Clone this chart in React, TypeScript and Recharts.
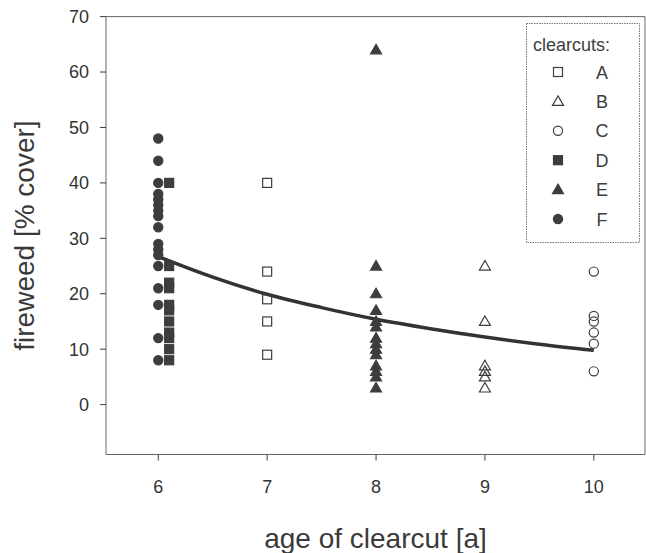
import { ComposedChart, Legend, Line, ReferenceArea, Scatter, XAxis, YAxis } from 'recharts';

// fireweed cover per clearcut
const ageTicks = [6, 7, 8, 9, 10];
const coverTicks = [0, 10, 20, 30, 40, 50, 60, 70];

const ageA = 7;
const coverA = [40, 24, 19, 15, 9];
const ageB = 9;
const coverB = [25, 15, 7, 6, 5, 3];
const ageC = 10;
const coverC = [24, 16, 15, 13, 11, 6];
const ageD = 6.1; // plotted slightly beside F in the original
const coverD = [40, 25, 22, 21, 18, 17, 15, 13, 12, 10, 8];
const ageE = 8;
const coverE = [64, 25, 20, 17, 15, 14, 12, 11, 10, 9, 7, 6, 5, 3];
const ageF = 6;
const coverF = [48, 44, 40, 38, 37, 36, 35, 34, 32, 29, 28, 27, 25, 21, 18, 12, 8];

// fitted curve
const fitAges = [6, 6.5, 7, 7.5, 8, 8.5, 9, 9.5, 10];
const fitCover = [26.7, 23.0, 19.9, 17.5, 15.4, 13.7, 12.2, 10.9, 9.8];

const legendNames = ['A', 'B', 'C', 'D', 'E', 'F'];

const INK = '#3d3d3d';
const FONT = '"Liberation Sans", Arial, Helvetica, sans-serif';

const pts = (age: number, cover: number[]) => cover.map((y) => ({ x: age, y }));
const fitData = fitAges.map((x, i) => ({ x, y: fitCover[i] }));

type P = { cx?: number; cy?: number };

function Square({ cx = 0, cy = 0, filled }: P & { filled?: boolean }) {
  return <rect x={cx - 4.5} y={cy - 4.5} width={9} height={9} fill={filled ? INK : '#fff'} fillOpacity={filled ? 1 : 0} stroke={INK} strokeWidth={1.2} />;
}
function Triangle({ cx = 0, cy = 0, filled }: P & { filled?: boolean }) {
  const d = `M${cx},${cy - 5.5} L${cx + 5.5},${cy + 4} L${cx - 5.5},${cy + 4} Z`;
  return <path d={d} fill={filled ? INK : 'none'} stroke={INK} strokeWidth={1.2} />;
}
function Circle({ cx = 0, cy = 0, filled }: P & { filled?: boolean }) {
  return <circle cx={cx} cy={cy} r={4.6} fill={filled ? INK : 'none'} stroke={INK} strokeWidth={1.2} />;
}

const shapes = [
  (p: P) => <Square {...p} />,
  (p: P) => <Triangle {...p} />,
  (p: P) => <Circle {...p} />,
  (p: P) => <Square {...p} filled />,
  (p: P) => <Triangle {...p} filled />,
  (p: P) => <Circle {...p} filled />,
];

function LegendBox() {
  return (
    <svg width={114} height={220} style={{ display: 'block' }}>
      <rect x={0.5} y={0.5} width={113} height={219} fill="#fff" stroke="#777" strokeWidth={1} strokeDasharray="1.5 1" />
      <text x={7} y={28} fontSize={18} fill={INK} fontFamily={FONT}>
        clearcuts:
      </text>
      {legendNames.map((n, i) => {
        const cy = 49 + i * 29.4;
        return (
          <g key={n}>
            {shapes[i]({ cx: 32, cy })}
            <text x={76} y={cy + 6.5} fontSize={18} textAnchor="middle" fill={INK} fontFamily={FONT}>
              {n}
            </text>
          </g>
        );
      })}
    </svg>
  );
}

export default function App() {
  return (
    <div style={{ position: 'absolute', left: 0, top: 0, width: 646, height: 553, background: '#fff', overflow: 'hidden' }}>
      <ComposedChart width={646} height={553} margin={{ top: 16.6, right: 1, bottom: 0, left: 0 }}>
        <XAxis
          type="number"
          dataKey="x"
          domain={[5.52, 10.47]}
          ticks={ageTicks}
          allowDataOverflow
          height={98.5}
          axisLine={false}
          tickSize={6}
          tickMargin={19.5}
          tickLine={{ stroke: INK }}
          tick={{ fontSize: 18, fill: '#333', fontFamily: FONT }}
          label={{ value: 'age of clearcut [a]', position: 'insideBottom', offset: 5, fontSize: 28, fill: '#3a3a3a', fontFamily: FONT }}
        />
        <YAxis
          type="number"
          dataKey="y"
          domain={[-9, 70]}
          ticks={coverTicks}
          allowDataOverflow
          width={106}
          axisLine={false}
          tickSize={6}
          tickMargin={11}
          tickLine={{ stroke: INK }}
          tick={{ fontSize: 18, fill: '#333', fontFamily: FONT }}
          label={{ value: 'fireweed [% cover]', position: 'insideLeft', angle: -90, offset: 24, fontSize: 28, fill: '#3a3a3a', fontFamily: FONT, style: { textAnchor: 'middle' } }}
        />
        <ReferenceArea x1={5.52} x2={10.47} y1={-9} y2={70} fill="none" stroke="#666" strokeWidth={1} />
        <Scatter name="A" data={pts(ageA, coverA)} shape={shapes[0]} isAnimationActive={false} />
        <Scatter name="B" data={pts(ageB, coverB)} shape={shapes[1]} isAnimationActive={false} />
        <Scatter name="C" data={pts(ageC, coverC)} shape={shapes[2]} isAnimationActive={false} />
        <Scatter name="D" data={pts(ageD, coverD)} shape={shapes[3]} isAnimationActive={false} />
        <Scatter name="E" data={pts(ageE, coverE)} shape={shapes[4]} isAnimationActive={false} />
        <Scatter name="F" data={pts(ageF, coverF)} shape={shapes[5]} isAnimationActive={false} />
        <Line data={fitData} dataKey="y" type="monotone" stroke="#333" strokeWidth={3.5} dot={false} activeDot={false} isAnimationActive={false} />
        <Legend layout="vertical" align="center" verticalAlign="middle" wrapperStyle={{ left: 526, top: 23, width: 114, height: 220 }} content={() => <LegendBox />} />
      </ComposedChart>
    </div>
  );
}
